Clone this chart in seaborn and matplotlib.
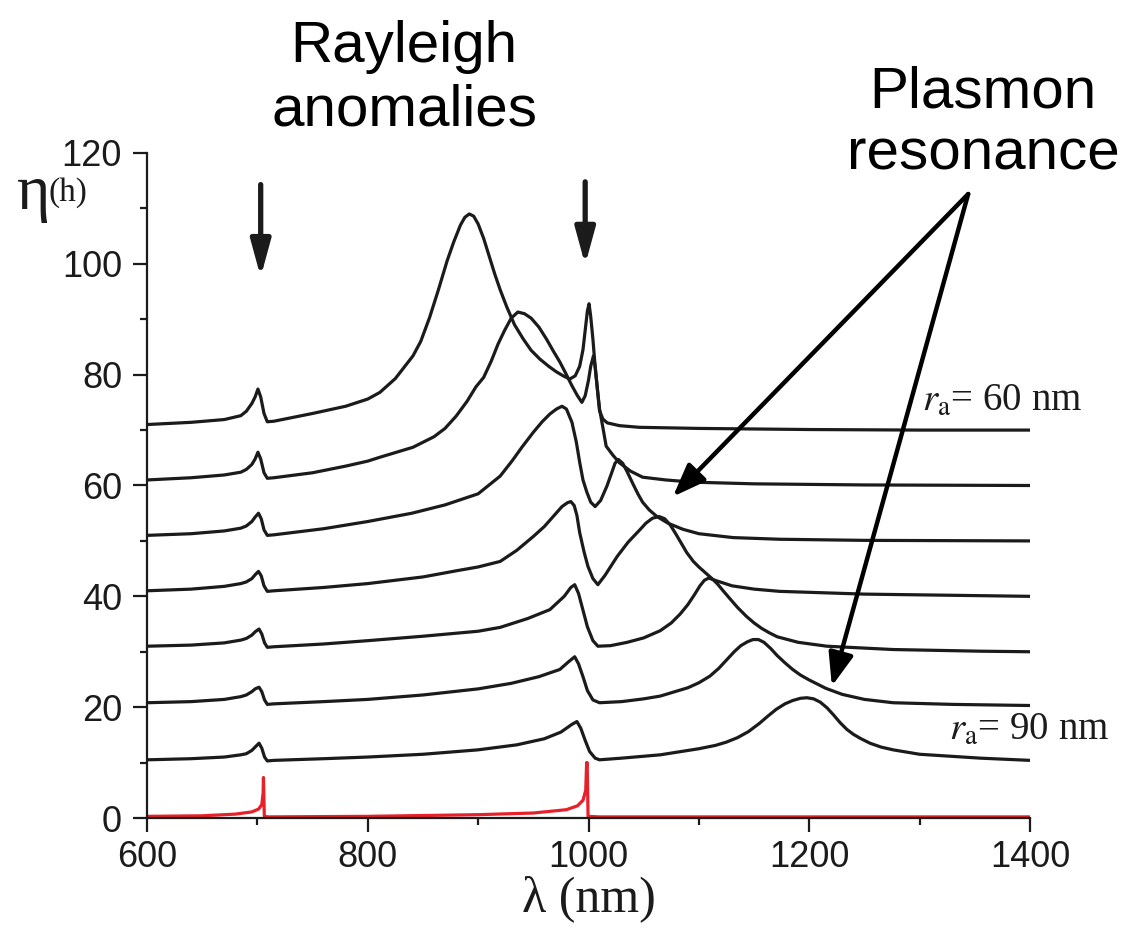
import matplotlib
matplotlib.use("Agg")
import matplotlib.pyplot as plt
from matplotlib.ticker import MultipleLocator
import seaborn as sns

# wavelength (nm) / eta for each aperture radius
wl_60 = [600, 640, 670, 685, 690, 695, 698, 700.5, 703, 706, 709, 715, 750, 780, 800, 811, 825, 841,
         848, 856, 864, 872, 878, 884, 888, 892, 896, 900, 905, 910, 915, 920, 926, 933, 941, 948,
         956, 964, 971, 977, 983, 988, 992, 995, 997, 999, 1000.5, 1002, 1004, 1006, 1008, 1010,
         1013, 1017, 1028, 1046, 1100, 1200, 1300, 1400]
eta_60 = [71.0, 71.4, 71.9, 72.6, 73.4, 74.8, 76.0, 77.4, 76.0, 73.0, 71.5, 71.6, 73.0, 74.3, 75.6,
          76.8, 79.3, 83.4, 86.0, 90.3, 95.3, 100.6, 104.0, 107.0, 108.4, 109.0, 108.6, 107.2,
          104.6, 101.4, 98.2, 95.3, 92.2, 89.0, 86.4, 84.4, 82.8, 81.5, 80.5, 79.8, 79.2, 79.8,
          81.5, 84.5, 88.0, 91.5, 92.8, 90.5, 86.4, 81.5, 77.5, 73.5, 72.0, 71.3, 70.8, 70.5, 70.3,
          70.1, 70.0, 70.0]

wl_65 = [600, 640, 670, 685, 690, 695, 698, 700.5, 703, 706, 709, 715, 750, 780, 800, 811, 841, 860,
         870, 880, 890, 898, 905, 912, 918, 924, 930, 936, 942, 948, 955, 962, 968, 974, 980, 985,
         990, 994, 997, 1000, 1002, 1004.5, 1006, 1008, 1010, 1013, 1016, 1022, 1028, 1038, 1049,
         1070, 1095, 1150, 1250, 1400]
eta_65 = [61.0, 61.4, 61.9, 62.4, 62.9, 63.8, 64.8, 66.0, 64.8, 62.3, 61.3, 61.4, 62.3, 63.5, 64.4,
          65.1, 66.9, 68.8, 70.3, 72.5, 75.2, 77.8, 79.5, 82.5, 85.5, 88.0, 90.2, 91.3, 91.0, 90.2,
          88.6, 86.4, 84.3, 82.3, 80.0, 78.0, 76.2, 75.0, 76.2, 79.0, 81.5, 83.4, 81.5, 77.5, 73.8,
          70.5, 67.1, 65.5, 64.1, 62.6, 61.5, 61.0, 60.6, 60.3, 60.1, 60.0]

wl_70 = [600, 640, 670, 685, 690, 695, 698, 701, 703.5, 706, 709, 715, 760, 800, 840, 870, 900, 920,
         931, 940, 950, 958, 965, 971, 976, 980, 985, 989, 992, 995, 998.5, 1002, 1006, 1011,
         1016.7, 1021, 1024, 1027, 1031, 1035, 1040, 1045, 1049, 1055, 1062, 1072, 1085.5, 1100,
         1131, 1173, 1250, 1400]
eta_70 = [51.0, 51.3, 51.8, 52.3, 52.7, 53.5, 54.3, 55.0, 54.0, 52.0, 51.0, 51.1, 52.2, 53.5, 55.0,
          56.5, 58.5, 61.7, 64.5, 67.0, 69.6, 71.5, 72.9, 73.8, 74.3, 73.8, 71.4, 67.8, 64.2, 61.0,
          58.8, 57.0, 56.2, 57.3, 59.9, 62.3, 64.0, 64.7, 64.0, 62.5, 60.4, 58.4, 57.0, 55.6, 54.4,
          53.2, 52.1, 51.3, 50.6, 50.3, 50.1, 50.0]

wl_75 = [600, 640, 670, 685, 690, 695, 698, 701, 703.5, 706, 709, 715, 760, 800, 850, 880, 900, 920,
         935, 950, 960, 968, 976, 981, 984, 987, 989.5, 992, 996, 999.5, 1004, 1008.5, 1015, 1026,
         1036, 1046.5, 1052, 1058, 1064, 1069, 1074, 1079, 1084, 1089, 1095, 1100, 1113, 1130,
         1150, 1173, 1250, 1400]
eta_75 = [41.0, 41.3, 41.8, 42.3, 42.6, 43.2, 43.9, 44.5, 43.7, 41.9, 40.9, 41.0, 41.6, 42.3, 43.5,
          44.6, 45.3, 46.3, 48.3, 50.8, 52.6, 54.4, 56.2, 56.9, 57.1, 56.4, 54.6, 51.5, 48.0, 45.4,
          43.2, 42.1, 43.8, 47.2, 49.8, 52.0, 53.2, 54.1, 54.4, 54.0, 52.9, 51.3, 49.6, 47.9, 46.3,
          45.3, 43.0, 41.9, 41.3, 40.9, 40.4, 40.0]

wl_80 = [600, 640, 670, 685, 690, 695, 698, 701.5, 704, 706.5, 709, 715, 760, 800, 850, 900, 920,
         945, 965, 978, 984, 987.5, 991, 995, 999, 1004, 1008.5, 1020, 1035, 1050, 1065, 1075, 1083,
         1090, 1096, 1101, 1105, 1109, 1113, 1117, 1122, 1128, 1135, 1143, 1150, 1157, 1164, 1171,
         1190, 1216, 1276, 1355, 1400]
eta_80 = [31.0, 31.2, 31.6, 32.1, 32.4, 33.0, 33.6, 34.1, 33.2, 31.6, 30.8, 30.9, 31.4, 32.0, 32.8,
          33.7, 34.4, 36.0, 37.6, 40.0, 41.6, 42.1, 40.5, 37.5, 34.5, 32.0, 31.0, 31.1, 31.7, 32.5,
          33.8, 35.2, 36.8, 38.5, 40.3, 41.9, 42.9, 43.3, 43.0, 42.2, 41.0, 39.6, 38.0, 36.4, 35.2,
          34.2, 33.4, 32.7, 31.7, 31.0, 30.4, 30.1, 30.0]

wl_85 = [600, 640, 670, 685, 690, 695, 698, 701.5, 704, 706.5, 709, 715, 760, 800, 850, 900, 930,
         955, 974, 982, 987.5, 991, 995, 999, 1004, 1010, 1030, 1050, 1065, 1090, 1100, 1110, 1118,
         1125, 1132, 1138, 1144, 1149, 1154, 1159, 1165, 1171, 1178, 1185, 1192, 1200, 1215, 1230,
         1250, 1276, 1330, 1400]
eta_85 = [20.8, 21.0, 21.4, 21.9, 22.2, 22.8, 23.3, 23.6, 22.8, 21.3, 20.5, 20.6, 21.0, 21.4, 22.2,
          23.3, 24.3, 25.5, 26.8, 28.2, 29.1, 27.8, 25.5, 23.0, 21.3, 20.8, 21.0, 21.5, 22.0, 23.5,
          24.4, 25.6, 27.0, 28.5, 30.0, 31.1, 31.8, 32.2, 32.2, 31.7, 30.6, 29.3, 28.0, 26.8, 25.8,
          24.9, 23.4, 22.3, 21.4, 20.8, 20.5, 20.3]

wl_90 = [600, 640, 670, 685, 690, 695, 698, 701.5, 704, 706.5, 709, 715, 760, 800, 850, 900, 935,
         960, 975, 985, 989.5, 993, 997, 1001, 1006, 1010, 1030, 1065, 1100, 1115, 1125, 1135, 1145,
         1155, 1162, 1170, 1178, 1185, 1192, 1198, 1204, 1210, 1216, 1222, 1228, 1234, 1240, 1246,
         1255, 1265, 1276, 1300, 1355, 1400]
eta_90 = [10.5, 10.7, 11.0, 11.4, 11.6, 12.2, 12.8, 13.5, 12.6, 11.0, 10.3, 10.4, 10.7, 11.0, 11.5,
          12.3, 13.2, 14.3, 15.5, 16.9, 17.4, 16.2, 14.0, 12.0, 10.8, 10.5, 10.8, 11.4, 12.5, 13.1,
          13.7, 14.5, 15.6, 17.1, 18.3, 19.6, 20.6, 21.2, 21.6, 21.7, 21.5, 20.9, 19.9, 18.6, 17.2,
          16.0, 15.1, 14.4, 13.5, 12.8, 12.3, 11.5, 10.8, 10.4]

# bare film reference (red)
wl_ref = [600, 650, 680, 695, 701, 704, 705.2, 705.5, 706.3, 710, 800, 900, 950, 980, 990, 995, 997.5,
          998.3, 998.8, 999.6, 1010, 1200, 1400]
eta_ref = [0.3, 0.4, 0.7, 1.1, 1.6, 2.4, 4.5, 7.3, 0.3, 0.2, 0.3, 0.6, 0.9, 1.5, 2.2, 3.2, 5.0, 10.0,
           10.0, 0.3, 0.2, 0.2, 0.2]

curves = [(wl_60, eta_60), (wl_65, eta_65), (wl_70, eta_70), (wl_75, eta_75),
          (wl_80, eta_80), (wl_85, eta_85), (wl_90, eta_90)]

x_ticks = [600, 800, 1000, 1200, 1400]
y_ticks = [0, 20, 40, 60, 80, 100, 120]

sns.set_style("ticks")
plt.rcParams["font.family"] = ["Liberation Sans", "DejaVu Sans"]
plt.rcParams["mathtext.fontset"] = "stix"

fig = plt.figure(figsize=(11.26, 9.32), dpi=100)
ax = fig.add_axes([147 / 1126, 1 - 818 / 932, (1030 - 147) / 1126, (818 - 153) / 932])

ink = "#1b1b1b"
for wl, eta in curves:
    sns.lineplot(x=wl, y=eta, ax=ax, color=ink, linewidth=2.3, sort=False,
                 estimator=None, solid_joinstyle="round")
sns.lineplot(x=wl_ref, y=eta_ref, ax=ax, color="#e8202a", linewidth=2.3, sort=False,
             estimator=None)

ax.set_xlim(600, 1400)
ax.set_ylim(0, 120)
ax.set_xticks(x_ticks)
ax.set_yticks(y_ticks)
ax.xaxis.set_minor_locator(MultipleLocator(100))
ax.yaxis.set_minor_locator(MultipleLocator(10))
ax.tick_params(axis="both", which="major", length=10, width=1.6, labelsize=26,
               colors=ink, direction="out")
ax.tick_params(axis="x", which="major", pad=6)
ax.tick_params(axis="y", which="major", pad=8)
ax.tick_params(axis="both", which="minor", length=5, width=1.6, color=ink, direction="out")
sns.despine(ax=ax)
for side in ["left", "bottom"]:
    ax.spines[side].set_linewidth(1.6)
    ax.spines[side].set_color(ink)

ax.set_xlabel("λ (nm)", fontsize=36, family="Liberation Serif", labelpad=0, color=ink)
ax.set_ylabel("")
fig.text(17 / 1126, 1 - 209 / 932, "η", fontsize=46, family="Liberation Serif",
         va="baseline", color=ink)
fig.text(48 / 1126, 1 - 201 / 932, "(h)", fontsize=24, family="Liberation Serif",
         va="baseline", color=ink)

# Rayleigh anomaly markers
arrow_v = dict(arrowstyle="-|>,head_length=1.1,head_width=0.3", lw=3.8, color=ink,
               shrinkA=0, shrinkB=0, mutation_scale=20)
ax.annotate("", xy=(703, 97.6), xytext=(703, 114.3), arrowprops=arrow_v)
ax.annotate("", xy=(997, 99.8), xytext=(997, 114.8), arrowprops=arrow_v)

# plasmon resonance markers
arrow_d = dict(arrowstyle="-|>,head_length=1.0,head_width=0.38", lw=3.2, color="black",
               shrinkA=0, shrinkB=0, mutation_scale=20)
ax.annotate("", xy=(1076.5, 58.0), xytext=(1344, 112.6), arrowprops=arrow_d,
            annotation_clip=False)
ax.annotate("", xy=(1220.5, 23.8), xytext=(1344, 112.6), arrowprops=arrow_d,
            annotation_clip=False)

ax.text(1302, 73.4, r"$r_{\mathrm{a}}$= 60 nm", fontsize=28, family="Liberation Serif",
        va="baseline", ha="left", color=ink, clip_on=False)
ax.text(1327, 14.1, r"$r_{\mathrm{a}}$= 90 nm", fontsize=28, family="Liberation Serif",
        va="baseline", ha="left", color=ink, clip_on=False)

fig.text(404 / 1126, 1 - 62 / 932, "Rayleigh", fontsize=42, ha="center", va="baseline",
         color="black")
fig.text(404 / 1126, 1 - 125 / 932, "anomalies", fontsize=42, ha="center", va="baseline",
         color="black")
fig.text(983 / 1126, 1 - 107 / 932, "Plasmon", fontsize=42, ha="center", va="baseline",
         color="black")
fig.text(983 / 1126, 1 - 170 / 932, "resonance", fontsize=42, ha="center", va="baseline",
         color="black")

fig.savefig("out.png", dpi=100, facecolor="white")
